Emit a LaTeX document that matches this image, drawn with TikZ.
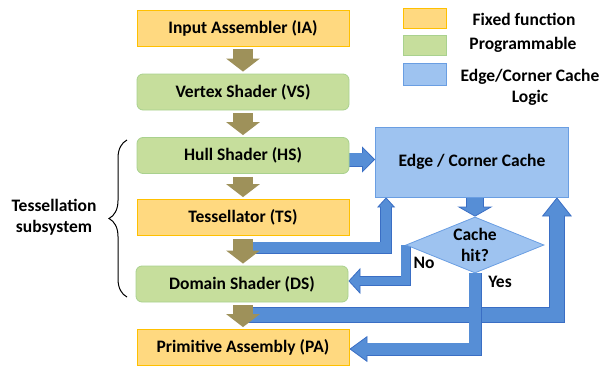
\documentclass[tikz,border=0pt]{standalone}
\usepackage{fontspec}
\setmainfont{Carlito}
\usetikzlibrary{arrows.meta,shapes.geometric,decorations.pathreplacing}

\definecolor{fixfill}{RGB}{255,217,128}
\definecolor{fixline}{RGB}{255,192,0}
\definecolor{progfill}{RGB}{198,222,156}
\definecolor{progline}{RGB}{169,209,142}
\definecolor{cachefill}{RGB}{158,195,240}
\definecolor{cacheline}{RGB}{106,158,226}
\definecolor{arrfill}{RGB}{86,142,214}
\definecolor{arrline}{RGB}{58,110,196}
\definecolor{olive}{RGB}{158,145,90}

\pgfdeclarelayer{back}
\pgfsetlayers{back,main}

\tikzset{
  fixed/.style={draw=fixline, fill=fixfill, line width=0.8pt, minimum width=212pt, minimum height=36pt},
  prog/.style={fixed, draw=progline, fill=progfill, rounded corners=6pt},
  cachebox/.style={draw=cacheline, fill=cachefill, line width=0.8pt, minimum width=193pt, minimum height=70pt},
  hitbox/.style={diamond, draw=cacheline, fill=cachefill, line width=0.8pt, aspect=2.4, inner sep=-4pt, minimum width=138pt, minimum height=56pt, align=center},
  swatch/.style={line width=0.8pt, minimum width=43pt, minimum height=20pt},
  flow/.style={draw=olive, line width=20pt, -{Triangle[length=13pt,width=33pt]}, shorten <=3pt, shorten >=2pt},
  % outer width, inner width, head width, head length, inner shorten
  bluearr/.style n args={5}{draw=arrline, line width=#1, -{Triangle[length=#4,width=#3,line width=0.8pt,fill=arrfill]},
    postaction={draw=arrfill, -, line width=#2, shorten >=#5}}
}

\begin{document}
\begin{tikzpicture}[x=1pt,y=-1pt,font=\bfseries\fontsize{17.5}{21}\selectfont]
\useasboundingbox (0,0) rectangle (603,367);

% pipeline stages
\node[fixed] (ia) at (243,28) {Input Assembler (IA)};
\node[prog] (vs) at (243,92) {Vertex Shader (VS)};
\node[prog] (hs) at (243,155.5) {Hull Shader (HS)};
\node[fixed] (ts) at (243,217.5) {Tessellator (TS)};
\node[prog] (ds) at (242,284) {Domain Shader (DS)};
\node[fixed] (pa) at (243,347.5) {Primitive Assembly (PA)};

% cache logic
\node[cachebox] (cache) at (472,162) {Edge / Corner Cache};
\node[hitbox] (hit) at (475,245) {Cache\\hit?};
\node (no) at (424,263) {No};
\node (yes) at (500,282) {Yes};

% legend
\node[swatch, draw=fixline, fill=fixfill] (kfix) at (424.5,18.5) {};
\node[swatch, draw=progline, fill=progfill] (kprog) at (424.5,45) {};
\node[swatch, draw=cacheline, fill=cachefill, minimum height=22pt] (kcache) at (424.5,74) {};
\node (tfix) at (524,19) {Fixed function};
\node (tprog) at (523,45) {Programmable};
\node[align=center] (tcache) at (530,87) {Edge/Corner Cache\\Logic};

% subsystem brace
\draw[line width=1pt, decorate, decoration={brace, amplitude=18pt, aspect=0.5}] (127,297) -- (127,140);
\node[align=center] (tess) at (54,217) {Tessellation\\subsystem};

% stage flow
\draw[flow] (ia) -- (vs);
\draw[flow] (vs) -- (hs);
\draw[flow] (hs) -- (ts);
\draw[flow] (ts.south) -- (ts.south |- ds.north);
\draw[flow] (ds.south -| pa.north) -- (pa.north);

\coordinate (tsout) at (243,247.5);
\coordinate (dsout) at (243,315);

\begin{pgfonlayer}{back}
\draw[bluearr={12pt}{10.4pt}{18pt}{10pt}{8pt}] (tsout) -| ([xshift=11pt]cache.south west);
\draw[bluearr={16pt}{14.4pt}{30pt}{19pt}{17pt}] (dsout) -| ([xshift=-12pt]cache.south east);
\draw[bluearr={14pt}{12.4pt}{26pt}{13pt}{11pt}] ([yshift=-4pt]hs.east) -- ([yshift=-4pt]hs.east -| cache.west);
\draw[bluearr={18pt}{16.4pt}{35pt}{10pt}{8pt}] (cache.south -| hit.north) -- (hit.north);
\draw[bluearr={10pt}{8.4pt}{26pt}{12pt}{10pt}] (hit.west) |- ([yshift=3pt]ds.east);
\draw[bluearr={13pt}{11.4pt}{26pt}{18pt}{16pt}] (hit.south) |- ([yshift=-1.5pt]pa.east);
\end{pgfonlayer}
\end{tikzpicture}
\end{document}
